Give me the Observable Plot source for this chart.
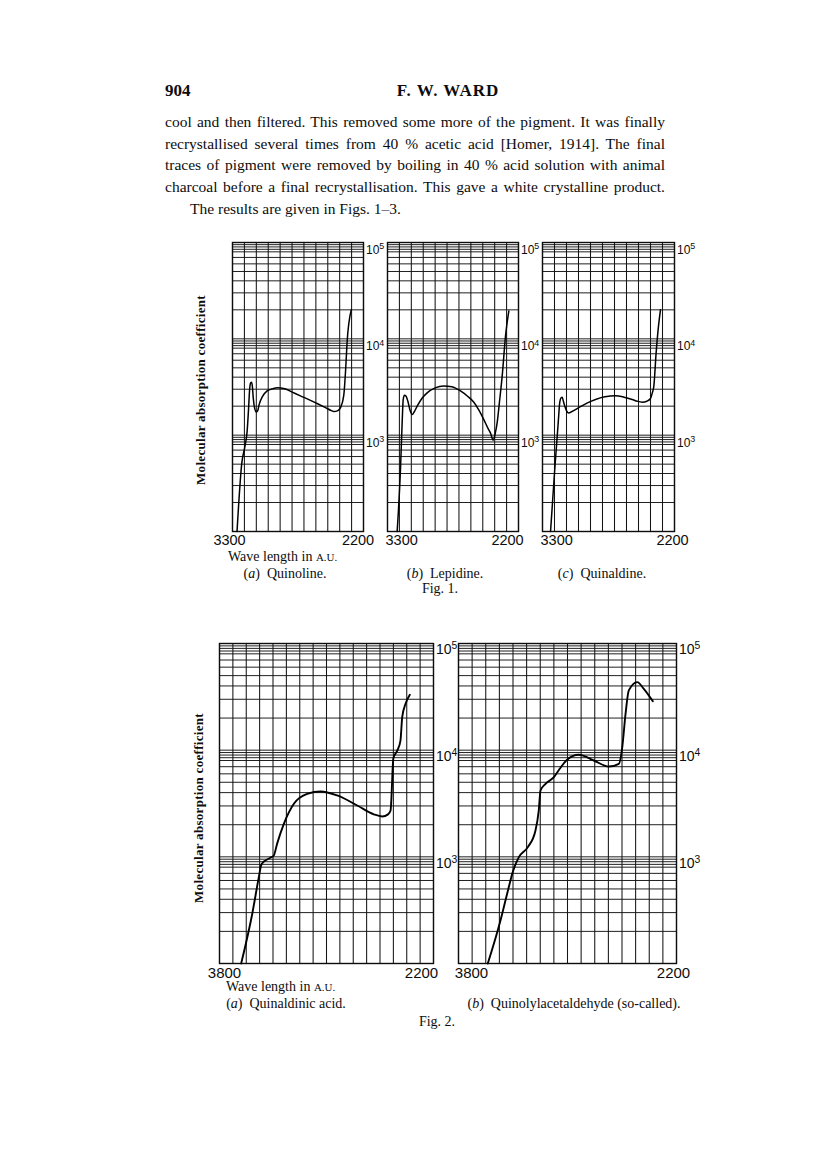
<!DOCTYPE html>
<html><head><meta charset="utf-8">
<script src="https://cdn.jsdelivr.net/npm/d3@7"></script>
<script src="https://cdn.jsdelivr.net/npm/@observablehq/plot@0.6"></script>
<style>
html,body{margin:0;padding:0;background:#fff;}
#page{position:relative;width:816px;height:1174px;overflow:hidden;background:#fff;color:#0d0d0d;}
.t{position:absolute;white-space:nowrap;}
.para{position:absolute;width:500px;text-align:justify;text-align-last:justify;white-space:normal;font-family:"Liberation Serif",serif;font-size:15.5px;line-height:15.5px;}
</style></head>
<body><div id="page"></div>
<script>
// ---------- data (wavelength in Å, molecular absorption coefficient) ----------
const quinolineW = [3262,3222,3195,3177,3166,3156,3147,3139,3132,3126,3114,3100,3088,3075,3050,3009,2960,2925,2860,2799,2730,2659,2590,2519,2470,2449,2415,2393,2366,2350,2338,2303];
const quinolineV = [100,513,770,1100,1800,3000,3500,3550,3100,2450,1900,1740,1800,2100,2500,2880,3040,3100,3030,2800,2560,2340,2130,1930,1800,1760,1800,1930,2570,4800,9100,20000];

const lepidineW = [3219,3191,3177,3168,3158,3145,3129,3110,3093,3075,3051,3010,2967,2900,2827,2760,2687,2630,2575,2530,2491,2455,2435,2412,2395,2379,2360,2337,2309,2281];
const lepidineV = [100,440,1350,2350,2600,2550,2250,1800,1640,1750,2000,2420,2750,3100,3240,3180,2880,2550,2200,1800,1450,1170,1050,890,1050,1350,2200,4100,10700,19500];

const quinaldineW = [3233,3198,3169,3156,3145,3136,3126,3114,3098,3081,3040,2998,2930,2858,2780,2692,2620,2553,2510,2469,2430,2400,2385,2372,2353,2336,2317];
const quinaldineV = [100,440,1350,2200,2450,2480,2250,2000,1780,1700,1800,1930,2150,2350,2500,2570,2480,2350,2250,2200,2250,2400,2750,3240,7200,12600,20000];

const quinaldinicW = [3638,3555,3506,3488,3470,3456,3420,3394,3369,3319,3244,3144,3045,2920,2770,2646,2583,2540,2521,2512,2506,2500,2471,2447,2434,2409,2377];
const quinaldinicV = [100,293,646,840,900,925,980,1030,1330,2040,3150,3900,4100,3760,3030,2500,2390,2500,2720,4200,6500,8400,9900,12300,20400,27200,33100];

const acetaldW = [3585,3492,3443,3398,3357,3291,3235,3211,3198,3161,3100,3057,3009,2917,2807,2697,2623,2598,2574,2550,2488,2440,2374];
const acetaldV = [100,253,451,746,994,1233,1767,2720,4190,4840,5580,6690,8000,9050,8000,7030,7450,10700,21900,36300,43400,37600,28800];

// ---------- scale ticks / grid ----------
const yDomain = [100, 100000];
const powerTicks = [1000, 10000, 100000];
const mantissas = [1, 2, 3, 4, 5, 6, 7, 8, 8.5, 9, 9.5];
const decades = [100, 1000, 10000];
const fig1Wave = d3.range(2200, 3301, 100);
const fig2Wave = d3.range(2200, 3801, 100);
const gridY = decades.flatMap(d => mantissas.map(m => m * d)).concat([100000]);

const zip = (w, v) => w.map((x, i) => ({w: x, v: v[i]}));

// panel layout (frame position on page)
const panels = [
  {data: zip(quinolineW, quinolineV), left: 232, top: 242, fw: 131, fh: 289, xd: [3300, 2200], grid: fig1Wave,
   dxL: -3, anchorL: "middle", dxR: -5.5, tick: 14.5, supSize: 12, supDy: 7.5, sw: 1.5},
  {data: zip(lepidineW, lepidineV), left: 387, top: 242, fw: 131, fh: 289, xd: [3300, 2200], grid: fig1Wave,
   dxL: -2, anchorL: "start", dxR: -11, tick: 14.5, supSize: 12, supDy: 7.5, sw: 1.5},
  {data: zip(quinaldineW, quinaldineV), left: 542, top: 242, fw: 132, fh: 289, xd: [3300, 2200], grid: fig1Wave,
   dxL: -2, anchorL: "start", dxR: -2, tick: 14.5, supSize: 12, supDy: 7.5, sw: 1.5},
  {data: zip(quinaldinicW, quinaldinicV), left: 219, top: 643, fw: 214, fh: 320, xd: [3800, 2200], grid: fig2Wave,
   dxL: 5, anchorL: "middle", dxR: -12, tick: 15, supSize: 14, supDy: 6.5, sw: 1.9},
  {data: zip(acetaldW, acetaldV), left: 458, top: 643, fw: 218, fh: 320, xd: [3800, 2200], grid: fig2Wave,
   dxL: 13, anchorL: "middle", dxR: -3, tick: 15, supSize: 14, supDy: 6.5, sw: 1.9}
];

const page = document.getElementById("page");
const mL = 25, mR = 40, mT = 10, mB = 28;

for (const p of panels) {
  const chart = Plot.plot({
    width: p.fw + mL + mR,
    height: p.fh + mT + mB,
    marginLeft: mL, marginRight: mR, marginTop: mT, marginBottom: mB,
    x: {domain: p.xd, axis: null},
    y: {type: "log", domain: yDomain, axis: null},
    style: {background: "transparent", overflow: "visible", fontFamily: "'Liberation Sans', 'DejaVu Sans', sans-serif", color: "#0d0d0d"},
    marks: [
      Plot.ruleY(gridY, {y: d => d, stroke: "#151515", strokeWidth: 0.95}),
      Plot.ruleX(p.grid, {x: d => d, stroke: "#151515", strokeWidth: 1.05}),
      Plot.frame({stroke: "#0d0d0d", strokeWidth: 1.4}),
      Plot.line(p.data, {x: "w", y: "v", curve: "monotone-x", stroke: "#000", strokeWidth: p.sw}),
      Plot.text([p.xd[0]], {x: d => d, text: d => String(d), frameAnchor: "bottom", lineAnchor: "top",
        textAnchor: p.anchorL, dy: 3.7, dx: p.dxL, fontSize: p.tick, fill: "#0d0d0d"}),
      Plot.text([p.xd[1]], {x: d => d, text: d => String(d), frameAnchor: "bottom", lineAnchor: "top",
        textAnchor: "middle", dy: 3.7, dx: p.dxR, fontSize: p.tick, fill: "#0d0d0d"}),
      Plot.text(powerTicks, {y: d => d, text: d => "10^" + Math.round(Math.log10(d)), frameAnchor: "right",
        textAnchor: "start", dx: 2.5, dy: p.supDy, fontSize: p.supSize, fill: "#0d0d0d"})
    ]
  });
  // turn "10^n" into 10 with a real superscript tspan
  d3.select(chart).selectAll("text").each(function() {
    const s = this.textContent;
    const m = /^10\^(\d)$/.exec(s);
    if (!m) return;
    const t = d3.select(this);
    t.text("10");
    t.append("tspan").attr("dy", "-0.5em").attr("font-size", "0.74em").text(m[1]);
  });
  chart.style.position = "absolute";
  chart.style.left = (p.left - mL) + "px";
  chart.style.top = (p.top - mT) + "px";
  chart.style.maxWidth = "none";
  page.appendChild(chart);
}

// ---------- page text ----------
function put(html, x, baseline, o = {}) {
  const size = o.size || 14, fam = o.family || "'Liberation Serif', serif";
  const asc = fam.includes("Sans") ? 0.8465 : 0.8375;
  const el = document.createElement("div");
  el.className = "t";
  el.innerHTML = html;
  let tr = o.anchor === "middle" ? "translateX(-50%)" : o.anchor === "end" ? "translateX(-100%)" : "";
  el.style.cssText = `left:${x}px;top:${baseline - asc * size}px;font-size:${size}px;line-height:${size}px;` +
    `font-family:${fam};font-weight:${o.weight || "normal"};letter-spacing:${o.ls || 0}px;` + (tr ? `transform:${tr};` : "");
  page.appendChild(el);
  return el;
}
function para(text, baseline) {
  const el = document.createElement("div");
  el.className = "para";
  el.textContent = text;
  el.style.left = "165px";
  el.style.top = (baseline - 0.8375 * 15.5) + "px";
  page.appendChild(el);
}
function vtitle(text, cx, cy) {
  const el = document.createElement("div");
  el.className = "t";
  el.textContent = text;
  el.style.cssText = `left:${cx}px;top:${cy}px;font-family:'Liberation Serif',serif;font-weight:bold;font-size:13px;line-height:13px;letter-spacing:0.3px;transform:translate(-50%,-50%) rotate(-90deg);`;
  page.appendChild(el);
}

put("904", 165, 96.7, {size: 17, weight: "bold"});
put("F. W. WARD", 448, 96.7, {size: 17, weight: "bold", anchor: "middle", ls: 1});

para("cool and then filtered. This removed some more of the pigment.  It was finally", 126.7);
para("recrystallised several times from 40 % acetic acid [Homer, 1914]. The final", 148.5);
para("traces of pigment were removed by boiling in 40 % acid solution with animal", 170.3);
para("charcoal before a final recrystallisation. This gave a white crystalline product.", 192.1);
put("The results are given in Figs. 1\u20133.", 190, 213.9, {size: 15.5});

vtitle("Molecular absorption coefficient", 200, 390);
vtitle("Molecular absorption coefficient", 198, 808);

const smallCaps = 'Wave length in <span style="font-size:0.78em">A.U.</span>';
put(smallCaps, 228, 562, {size: 14});
put("(<i>a</i>)&nbsp; Quinoline.", 285, 579, {size: 14, anchor: "middle"});
put("(<i>b</i>)&nbsp; Lepidine.", 445, 579, {size: 14, anchor: "middle"});
put("(<i>c</i>)&nbsp; Quinaldine.", 602, 579, {size: 14, anchor: "middle"});
put("Fig. 1.", 440, 594, {size: 14, anchor: "middle"});

put(smallCaps, 226, 991.5, {size: 14});
put("(<i>a</i>)&nbsp; Quinaldinic acid.", 286, 1009, {size: 14, anchor: "middle"});
put("(<i>b</i>)&nbsp; Quinolylacetaldehyde (so-called).", 574, 1009, {size: 14, anchor: "middle"});
put("Fig. 2.", 437, 1027, {size: 14, anchor: "middle"});
</script>
</body></html>
